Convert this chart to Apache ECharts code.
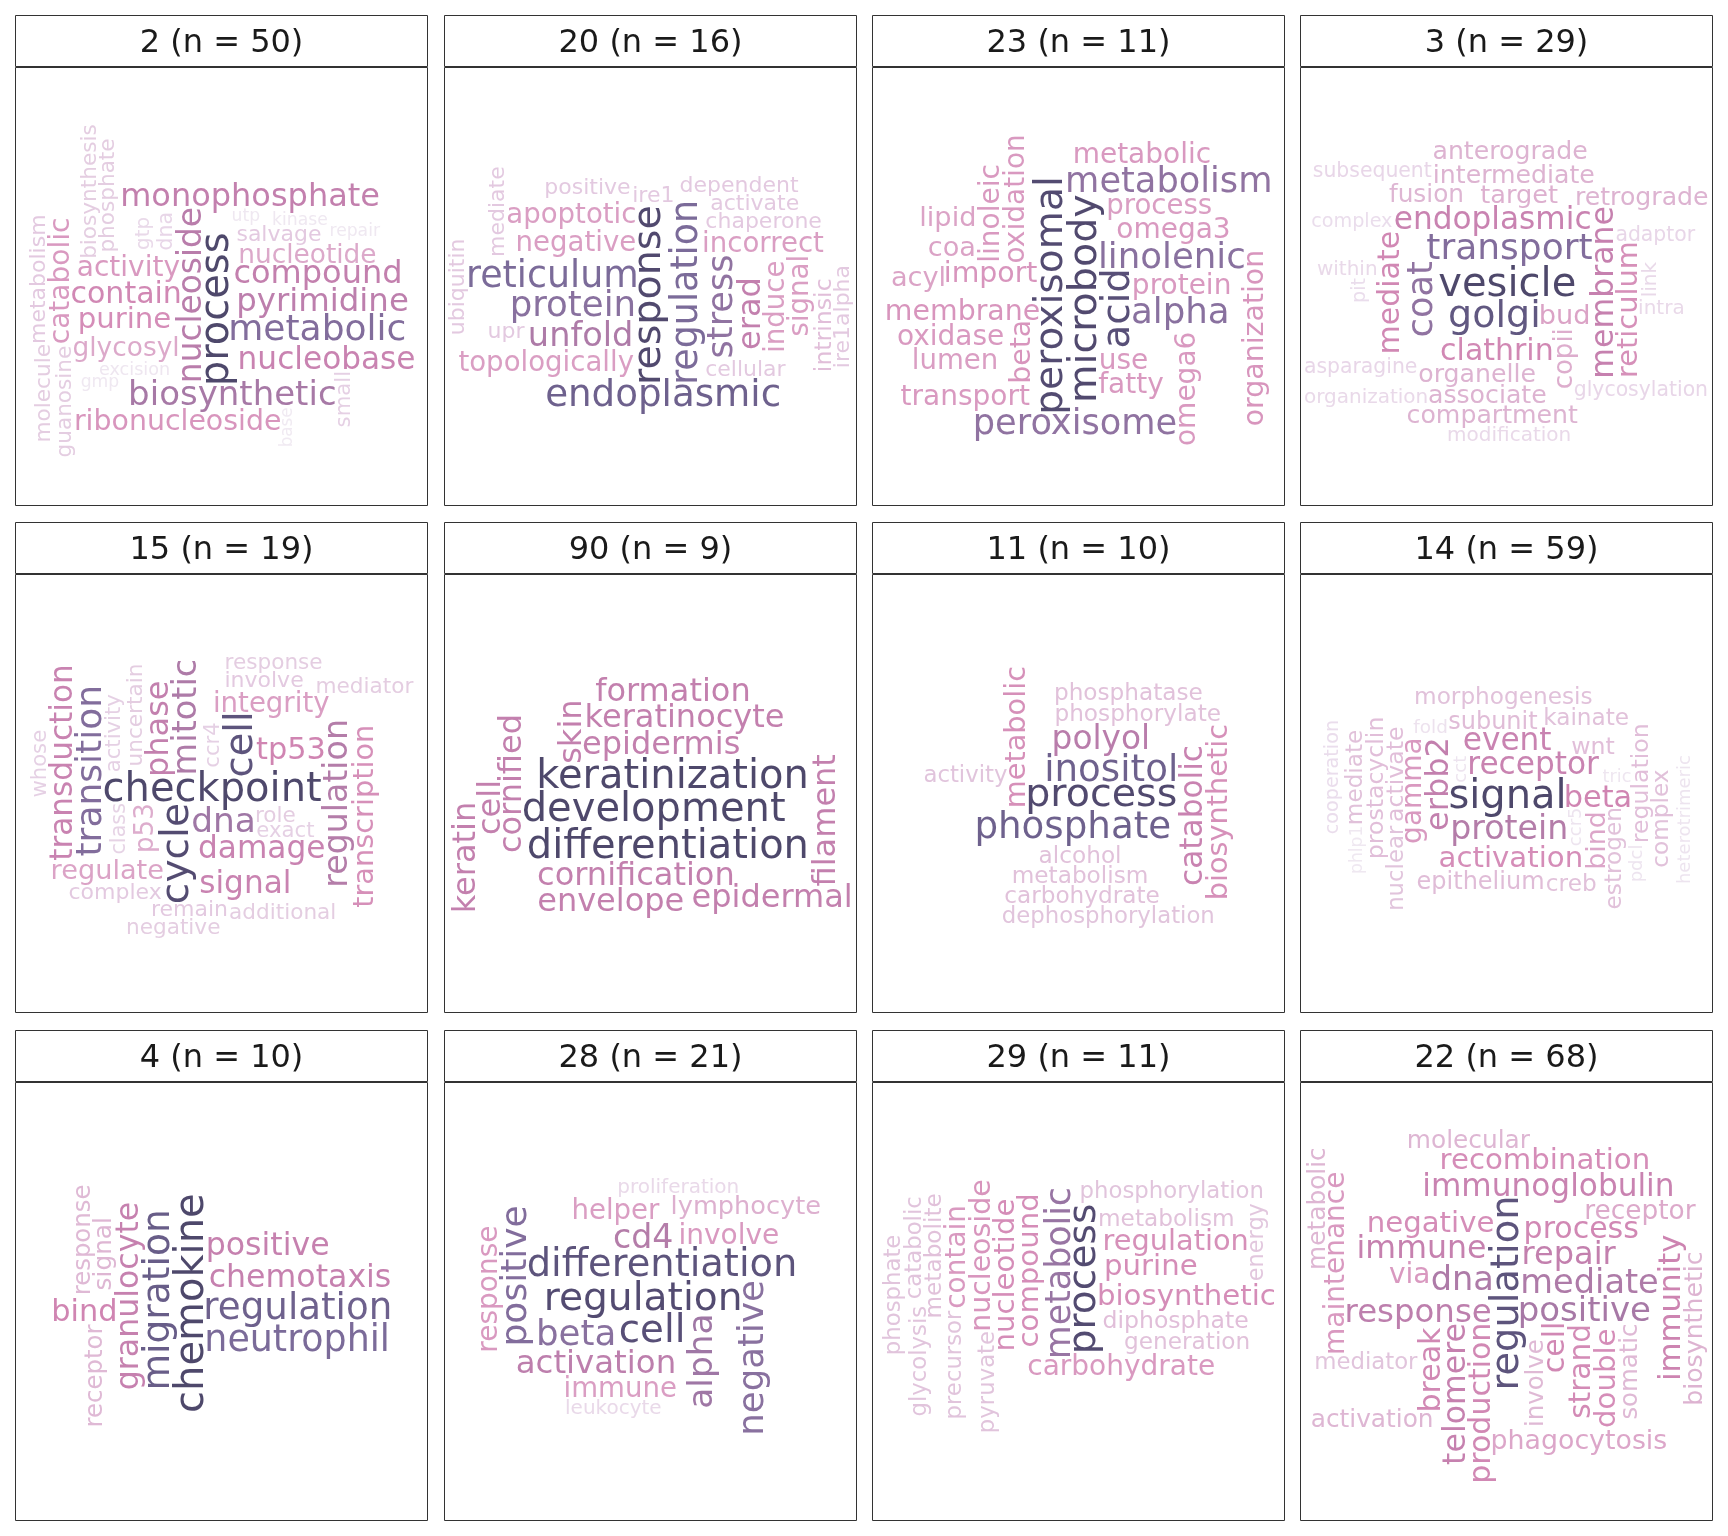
<!DOCTYPE html>
<html>
<head>
<meta charset="utf-8">
<script src="https://cdn.jsdelivr.net/npm/echarts@6/dist/echarts.min.js"></script>
<style>
html,body{margin:0;padding:0;background:#fff;}
#chart{width:1728px;height:1536px;}
</style>
</head>
<body>
<div id="chart"></div>
<script>
// ---------------- DATA ----------------
const panelTitles = ['2 (n = 50)', '20 (n = 16)', '23 (n = 11)', '3 (n = 29)',
                     '15 (n = 19)', '90 (n = 9)', '11 (n = 10)', '14 (n = 59)',
                     '4 (n = 10)', '28 (n = 21)', '29 (n = 11)', '22 (n = 68)'];

// relative word score within each cluster (1 = most prominent word)
const p1Words = ['process','metabolic','biosynthetic','nucleoside','pyrimidine','monophosphate','compound','nucleobase','contain','purine','ribonucleoside','activity','catabolic','glycosyl','nucleotide','salvage','metabolism','phosphate','guanosine','biosynthesis','molecule','small','dna','gtp','excision','utp','kinase','gmp','repair','base'];
const p1Scores = [1.00,0.90,0.85,0.82,0.81,0.80,0.80,0.78,0.75,0.73,0.71,0.70,0.70,0.66,0.66,0.55,0.55,0.54,0.54,0.54,0.54,0.53,0.51,0.50,0.44,0.43,0.43,0.43,0.43,0.42];
const p1Vertical = ['process','nucleoside','catabolic','metabolism','phosphate','guanosine','biosynthesis','molecule','small','dna','gtp','base'];

const p2Words = ['response','endoplasmic','regulation','reticulum','stress','protein','unfold','erad','negative','topologically','incorrect','apoptotic','induce','signal','intrinsic','chaperone','ubiquitin','cellular','ire1','ire1alpha','mediate','upr','activate','positive','dependent'];
const p2Scores = [0.99,0.93,0.91,0.91,0.88,0.89,0.84,0.80,0.69,0.69,0.69,0.69,0.69,0.69,0.59,0.55,0.55,0.55,0.55,0.55,0.55,0.55,0.55,0.55,0.55];
const p2Vertical = ['response','regulation','stress','erad','induce','signal','intrinsic','ubiquitin','ire1alpha','mediate'];

const p3Words = ['microbody','peroxisomal','acid','linolenic','alpha','metabolism','peroxisome','membrane','import','beta','organization','oxidation','linoleic','omega6','omega3','protein','use','oxidase','transport','metabolic','fatty','process','lumen','coa','acyl','lipid'];
const p3Scores = [0.99,0.98,0.97,0.89,0.89,0.88,0.88,0.71,0.71,0.71,0.71,0.70,0.70,0.70,0.70,0.70,0.70,0.70,0.70,0.70,0.70,0.69,0.69,0.68,0.68,0.68];
const p3Vertical = ['microbody','peroxisomal','acid','beta','organization','oxidation','linoleic','omega6'];

const p4Words = ['vesicle','golgi','transport','coat','membrane','endoplasmic','clathrin','mediate','reticulum','bud','copii','target','organelle','intermediate','associate','retrograde','compartment','anterograde','fusion','adaptor','glycosylation','subsequent','asparagine','organization','modification','within','intra','link','complex','pit'];
const p4Scores = [1.00,0.95,0.90,0.88,0.79,0.78,0.75,0.75,0.72,0.68,0.65,0.64,0.63,0.63,0.63,0.63,0.63,0.63,0.62,0.51,0.51,0.51,0.51,0.50,0.50,0.50,0.50,0.50,0.48,0.48];
const p4Vertical = ['coat','membrane','mediate','reticulum','copii','link','pit'];

const p5Words = ['checkpoint','cycle','cell','transition','dna','mitotic','regulation','phase','transduction','damage','signal','tp53','transcription','integrity','regulate','p53','involve','complex','remain','uncertain','additional','response','negative','mediator','role','activity','whose','exact','ccr4','class'];
const p5Scores = [1.00,0.98,0.96,0.90,0.86,0.84,0.83,0.80,0.78,0.78,0.78,0.76,0.72,0.69,0.68,0.65,0.55,0.55,0.55,0.54,0.54,0.54,0.54,0.54,0.54,0.53,0.53,0.53,0.53,0.52];
const p5Vertical = ['cycle','cell','transition','mitotic','regulation','phase','transduction','transcription','p53','uncertain','activity','whose','ccr4','class'];

const p6Words = ['development','keratinization','differentiation','epidermis','cornification','keratinocyte','envelope','epidermal','formation','skin','cornified','cell','filament','keratin'];
const p6Scores = [1.00,1.00,1.00,0.80,0.80,0.80,0.80,0.80,0.80,0.80,0.80,0.80,0.80,0.80];
const p6Vertical = ['skin','cornified','cell','filament','keratin'];

const p7Words = ['process','inositol','phosphate','polyol','catabolic','biosynthetic','metabolic','alcohol','metabolism','phosphorylate','carbohydrate','phosphatase','dephosphorylation','activity'];
const p7Scores = [0.99,0.93,0.93,0.82,0.78,0.72,0.72,0.58,0.58,0.58,0.58,0.58,0.57,0.57];
const p7Vertical = ['catabolic','biosynthetic','metabolic'];

const p8Words = ['signal','protein','erbb2','receptor','event','beta','activation','gamma','bind','subunit','epithelium','wnt','activate','prostacyclin','regulation','estrogen','kainate','mediate','creb','morphogenesis','complex','nuclear','cooperation','fold','heterotrimeric','pdcl','cct','ccr5','tric','phlp1'];
const p8Scores = [1.00,0.83,0.80,0.78,0.78,0.76,0.73,0.70,0.67,0.60,0.60,0.59,0.59,0.59,0.59,0.58,0.58,0.58,0.58,0.58,0.58,0.57,0.48,0.46,0.45,0.45,0.45,0.45,0.44,0.43];
const p8Vertical = ['erbb2','gamma','bind','activate','prostacyclin','regulation','estrogen','mediate','complex','nuclear','cooperation','heterotrimeric','pdcl','cct','ccr5','phlp1'];

const p9Words = ['chemokine','migration','regulation','neutrophil','chemotaxis','granulocyte','positive','bind','signal','response','receptor'];
const p9Scores = [1.00,0.94,0.93,0.91,0.79,0.79,0.79,0.76,0.62,0.61,0.61];
const p9Vertical = ['chemokine','migration','granulocyte','signal','response','receptor'];

const p10Words = ['regulation','cell','differentiation','positive','beta','negative','alpha','cd4','activation','involve','response','helper','immune','lymphocyte','leukocyte','proliferation'];
const p10Scores = [0.98,0.97,0.96,0.90,0.89,0.89,0.86,0.83,0.81,0.70,0.70,0.69,0.69,0.64,0.50,0.50];
const p10Vertical = ['positive','negative','alpha','response'];

const p11Words = ['process','metabolic','biosynthetic','compound','nucleotide','purine','regulation','nucleoside','carbohydrate','contain','diphosphate','metabolism','generation','metabolite','catabolic','precursor','phosphorylation','phosphate','pyruvate','glycolysis','energy'];
const p11Scores = [0.98,0.87,0.73,0.73,0.73,0.73,0.72,0.71,0.70,0.70,0.59,0.58,0.58,0.58,0.57,0.57,0.57,0.57,0.57,0.57,0.56];
const p11Vertical = ['process','metabolic','compound','nucleotide','nucleoside','contain','metabolite','catabolic','precursor','phosphate','pyruvate','glycolysis','energy'];

const p12Words = ['regulation','positive','dna','mediate','response','repair','immune','telomere','immunoglobulin','immunity','production','cell','break','process','strand','double','negative','recombination','maintenance','via','phagocytosis','receptor','biosynthetic','molecular','activation','metabolic','somatic','involve','mediator'];
const p12Scores = [0.96,0.85,0.84,0.84,0.81,0.80,0.79,0.79,0.78,0.77,0.75,0.75,0.75,0.75,0.74,0.73,0.73,0.73,0.70,0.70,0.67,0.66,0.63,0.62,0.62,0.62,0.61,0.61,0.57];
const p12Vertical = ['regulation','telomere','immunity','production','cell','break','strand','double','maintenance','biosynthetic','metabolic','somatic','involve'];

const panels = [
  [p1Words, p1Scores, p1Vertical], [p2Words, p2Scores, p2Vertical], [p3Words, p3Scores, p3Vertical], [p4Words, p4Scores, p4Vertical],
  [p5Words, p5Scores, p5Vertical], [p6Words, p6Scores, p6Vertical], [p7Words, p7Scores, p7Vertical], [p8Words, p8Scores, p8Vertical],
  [p9Words, p9Scores, p9Vertical], [p10Words, p10Scores, p10Vertical], [p11Words, p11Scores, p11Vertical], [p12Words, p12Scores, p12Vertical]
];

// ---------------- STYLE / LAYOUT ----------------
const FONT_FAMILY = 'DejaVu Sans';
const MAX_SIZE = 40;
const COL_LEFT = [15.5, 444.5, 872.5, 1300.5];
const ROW_TOP = [15.5, 522.5, 1030.5];
const PANEL_W = 412;
const STRIP_H = 51;
const BODY_H = 438;
const COLOR_STOPS = [
  [0.42, [236,229,239]], [0.50, [227,208,228]], [0.55, [220,188,216]], [0.62, [214,164,200]],
  [0.68, [210,140,184]], [0.72, [204,116,168]], [0.76, [196,103,159]], [0.80, [180,96,154]],
  [0.84, [154,90,146]],  [0.88, [116,80,138]],  [0.91, [90,70,128]],   [0.95, [58,46,98]],
  [0.98, [40,30,78]],    [1.00, [34,26,70]]
];
function colorFor(s) {
  if (s <= COLOR_STOPS[0][0]) return 'rgb(' + COLOR_STOPS[0][1].join(',') + ')';
  for (let i = 1; i < COLOR_STOPS.length; i++) {
    const [s1, c1] = COLOR_STOPS[i];
    const [s0, c0] = COLOR_STOPS[i - 1];
    if (s <= s1) {
      const t = (s - s0) / (s1 - s0);
      return 'rgb(' + c0.map((v, k) => Math.round(v + (c1[k] - v) * t)).join(',') + ')';
    }
  }
  return 'rgb(' + COLOR_STOPS[COLOR_STOPS.length - 1][1].join(',') + ')';
}

// glyph-level shapes for collision testing (word cloud spiral layout)
const mctx = document.createElement('canvas').getContext('2d');
function wordShape(word, size, vert) {
  mctx.font = size + 'px "' + FONT_FAMILY + '"';
  mctx.textAlign = 'left';
  mctx.textBaseline = 'middle';
  const total = mctx.measureText(word).width;
  const start = -total / 2;
  const boxes = [];
  for (let i = 0; i < word.length; i++) {
    const off = mctx.measureText(word.slice(0, i)).width;
    const cm = mctx.measureText(word[i]);
    const x1 = start + off - cm.actualBoundingBoxLeft;
    const x2 = start + off + cm.actualBoundingBoxRight;
    const y1 = -cm.actualBoundingBoxAscent;
    const y2 = cm.actualBoundingBoxDescent;
    if (!(x2 > x1 && y2 > y1)) continue;
    boxes.push(vert ? [y1, -x2, y2, -x1] : [x1, y1, x2, y2]);
  }
  const bbox = [Infinity, Infinity, -Infinity, -Infinity];
  boxes.forEach(b => {
    bbox[0] = Math.min(bbox[0], b[0]); bbox[1] = Math.min(bbox[1], b[1]);
    bbox[2] = Math.max(bbox[2], b[2]); bbox[3] = Math.max(bbox[3], b[3]);
  });
  return { boxes, bbox };
}
function collides(shape, x, y, placed, pad) {
  const b = shape.bbox;
  const bx1 = b[0] + x, by1 = b[1] + y, bx2 = b[2] + x, by2 = b[3] + y;
  for (const p of placed) {
    const q = p.bbox;
    if (bx2 + pad <= q[0] || bx1 >= q[2] + pad || by2 + pad <= q[1] || by1 >= q[3] + pad) continue;
    for (const a of shape.boxes) {
      const ax1 = a[0] + x, ay1 = a[1] + y, ax2 = a[2] + x, ay2 = a[3] + y;
      for (const c of p.boxes) {
        if (ax2 + pad <= c[0] || ax1 >= c[2] + pad || ay2 + pad <= c[1] || ay1 >= c[3] + pad) continue;
        return true;
      }
    }
  }
  return false;
}
function absShape(shape, x, y) {
  return {
    bbox: [shape.bbox[0] + x, shape.bbox[1] + y, shape.bbox[2] + x, shape.bbox[3] + y],
    boxes: shape.boxes.map(a => [a[0] + x, a[1] + y, a[2] + x, a[3] + y])
  };
}
function layoutCloud(words, scores, vertical, W, H) {
  const items = words.map((w, i) => ({ word: w, score: scores[i], vert: vertical.indexOf(w) >= 0, idx: i }));
  items.sort((a, b) => b.score - a.score || a.idx - b.idx);
  const placed = [];
  const ECC = 0.65, M = 3;
  items.forEach(it => {
    it.size = MAX_SIZE * it.score;
    const shape = wordShape(it.word, it.size, it.vert);
    let spot = null;
    for (const pad of [2, -1, -4, -8, -14]) {
      let theta = 0;
      while (!spot) {
        const r = 1.2 * theta;
        if (r > W) break;
        const x = W / 2 + r * Math.cos(theta);
        const y = H / 2 - ECC * r * Math.sin(theta);
        const inside = x + shape.bbox[0] >= M && x + shape.bbox[2] <= W - M &&
                       y + shape.bbox[1] >= M && y + shape.bbox[3] <= H - M;
        if (inside && !collides(shape, x, y, placed, pad)) spot = [x, y];
        theta += Math.min(0.25, 2.5 / (r + 1));
      }
      if (spot) break;
    }
    if (!spot) spot = [W / 2, H / 2];
    it.x = spot[0]; it.y = spot[1];
    placed.push(absShape(shape, spot[0], spot[1]));
  });
  // re-centre the whole cloud inside the panel
  let x1 = Infinity, y1 = Infinity, x2 = -Infinity, y2 = -Infinity;
  placed.forEach(p => { x1 = Math.min(x1, p.bbox[0]); y1 = Math.min(y1, p.bbox[1]); x2 = Math.max(x2, p.bbox[2]); y2 = Math.max(y2, p.bbox[3]); });
  let dx = W / 2 - (x1 + x2) / 2, dy = H / 2 + 4 - (y1 + y2) / 2;
  dx = Math.max(M - x1, Math.min(W - M - x2, dx));
  dy = Math.max(M - y1, Math.min(H - M - y2, dy));
  items.forEach(it => { it.x += dx; it.y += dy; });
  return items;
}

// ---------------- ECHARTS OPTION ----------------
const grids = [], xAxes = [], yAxes = [], series = [], graphics = [];
panels.forEach((p, i) => {
  const col = i % 4, row = Math.floor(i / 4);
  const left = COL_LEFT[col], top = ROW_TOP[row];
  grids.push({ left: left, top: top + STRIP_H + 1, width: PANEL_W, height: BODY_H,
               show: true, borderColor: '#333333', borderWidth: 1, backgroundColor: '#ffffff' });
  xAxes.push({ gridIndex: i, type: 'value', min: 0, max: PANEL_W, show: false });
  yAxes.push({ gridIndex: i, type: 'value', min: 0, max: BODY_H, inverse: true, show: false });
  const words = layoutCloud(p[0], p[1], p[2], PANEL_W, BODY_H);
  series.push({
    type: 'scatter', xAxisIndex: i, yAxisIndex: i, symbolSize: 1, silent: true,
    itemStyle: { color: 'rgba(0,0,0,0)' },
    label: { show: true, position: 'inside', formatter: '{b}', fontFamily: FONT_FAMILY },
    data: words.map(w => ({
      name: w.word, value: [w.x, w.y],
      label: { fontSize: w.size, color: colorFor(w.score), rotate: w.vert ? 90 : 0 }
    }))
  });
  graphics.push({ type: 'rect', shape: { x: left, y: top, width: PANEL_W, height: STRIP_H },
                  style: { fill: '#ffffff', stroke: '#333333', lineWidth: 1 }, silent: true });
  graphics.push({ type: 'text', x: left + PANEL_W / 2, y: top + STRIP_H / 2 + 3, silent: true,
                  style: { text: panelTitles[i], fill: '#1a1a1a', fontSize: 32, fontFamily: FONT_FAMILY,
                           align: 'center', verticalAlign: 'middle', textAlign: 'center', textVerticalAlign: 'middle' } });
});

const chart = echarts.init(document.getElementById('chart'), null, { renderer: 'canvas' });
chart.setOption({
  animation: false,
  backgroundColor: '#ffffff',
  grid: grids, xAxis: xAxes, yAxis: yAxes, series: series,
  graphic: { elements: graphics }
});
</script>
</body>
</html>
